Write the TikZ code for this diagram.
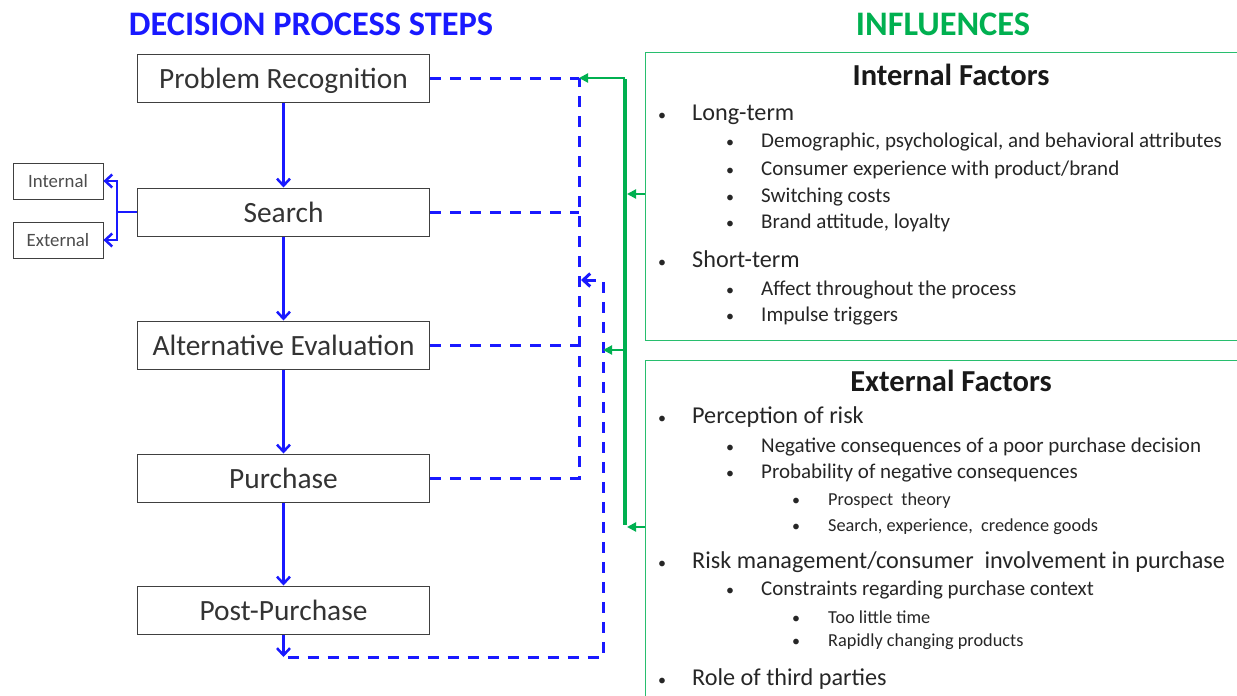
\documentclass[tikz,border=0pt]{standalone}
\usepackage{fontspec}
\setmainfont{Carlito}
\usetikzlibrary{arrows.meta}
\definecolor{myblue}{RGB}{25,25,255}
\definecolor{mygreen}{RGB}{0,176,80}
\definecolor{boxgreen}{RGB}{40,190,110}
\begin{document}
\begin{tikzpicture}[x=1pt,y=-1pt,
  stepbox/.style={draw=black!75, line width=1pt, minimum width=292pt, minimum height=48pt, inner sep=0pt, text height=24pt, text depth=3pt, font=\fontsize{29.4}{32}\selectfont, text=black!80},
  smallbox/.style={draw=black!75, line width=0.8pt, minimum width=90pt, minimum height=36pt, inner sep=0pt, font=\fontsize{18.8}{21}\selectfont, text=black!70},
  factorbox/.style={draw=boxgreen, line width=1pt, inner sep=0pt},
  flow/.style={myblue, line width=2.5pt, -{Straight Barb[length=7pt,width=13pt]}},
  fbdash/.style={myblue, line width=3pt, dash pattern=on 11pt off 9pt},
  trunk/.style={mygreen, line width=4pt},
  infl/.style={mygreen, line width=2pt, -{Triangle[length=9pt,width=9pt]}},
  heading/.style={inner sep=0pt, font=\fontsize{34.4}{38}\selectfont\bfseries},
  ftitle/.style={inner sep=0pt, font=\fontsize{30.5}{34}\selectfont\bfseries, text=black!90},
  lone/.style={anchor=mid west, inner sep=0pt, font=\fontsize{24.2}{27}\selectfont, text=black!85},
  ltwo/.style={anchor=mid west, inner sep=0pt, font=\fontsize{21}{24}\selectfont, text=black!85},
  lthree/.style={anchor=mid west, inner sep=0pt, font=\fontsize{18.3}{21}\selectfont, text=black!85},
  bul/.style={inner sep=0pt, font=\fontsize{16}{18}\selectfont, text=black!85}]
\useasboundingbox (0,0) rectangle (1237,696);
\clip (0,0) rectangle (1237,696);

% headings
\node[heading, text=myblue] (h1) at (311,24) {DECISION PROCESS STEPS};
\node[heading, text=mygreen] (h2) at (943,24) {INFLUENCES};

% steps
\node[stepbox] (pr) at (283.5,78) {Problem Recognition};
\node[stepbox] (se) at (283.5,212) {Search};
\node[stepbox] (ae) at (283.5,345) {Alternative Evaluation};
\node[stepbox] (pu) at (283.5,478) {Purchase};
\node[stepbox] (pp) at (283.5,610) {Post-Purchase};

\node[smallbox] (in) at (58,181) {Internal};
\node[smallbox] (ex) at (58,240) {External};

% flow arrows
\draw[flow] (pr) -- (se);
\draw[flow] (se) -- (ae);
\draw[flow] (ae) -- (pu);
\draw[flow] (pu) -- (pp);

\coordinate (br) at (117,212);
\draw[myblue, line width=2.5pt] (se.west) -- (br);
\draw[flow] (br) |- (in.east);
\draw[flow] (br) |- (ex.east);

% dashed links to influences
\coordinate (d1) at (579,78);
\coordinate (d2) at (579,212);
\coordinate (d3) at (579,345);
\coordinate (d4) at (579,478);
\draw[fbdash] (pr.east) -- (d1);
\draw[fbdash] (se.east) -- (d2);
\draw[fbdash] (ae.east) -- (d3);
\draw[fbdash] (pu.east) -- (d4) -- (d1);

% feedback loop
\coordinate (f0) at (283.5,657);
\coordinate (f1) at (603,657);
\coordinate (f2) at (603,280);
\coordinate (f3) at (581,280);
\draw[flow] (pp.south) -- (f0);
\draw[fbdash, -{Straight Barb[length=7pt,width=13pt]}] ([xshift=4pt]f0) -- (f1) -- (f2) -- (f3);

% factor boxes
\node[factorbox, minimum width=640pt, minimum height=288pt] (ib) at (965,196) {};
\node[factorbox, minimum width=640pt, minimum height=360pt] (eb) at (965,540) {};

% green influences
\coordinate (gt) at (625,78);
\coordinate (gm) at (625,194);
\coordinate (gc) at (625,350);
\coordinate (gb) at (625,527);
\draw[trunk] ([yshift=-1pt]gt) -- ([yshift=2pt]gb);
\draw[infl] (gt) -- (d1);
\draw[infl] (ib.west |- gm) -- ([xshift=2pt]gm);
\draw[infl] (eb.west |- gb) -- ([xshift=2pt]gb);
\draw[infl] (gc) -- (f2 |- gc);

% internal factors text
\node[ftitle] (it) at (951,75) {Internal Factors};
\node[bul] (b1) at (662,117) {\textbullet};
\node[lone] (t1) at (692,118) {Long-term};
\node[bul] (b2) at (730,144) {\textbullet};
\node[ltwo] (t2) at (761,145) {Demographic, psychological, and behavioral attributes};
\node[bul] (b3) at (730,172) {\textbullet};
\node[ltwo] (t3) at (761,173) {Consumer experience with product/brand};
\node[bul] (b4) at (730,199) {\textbullet};
\node[ltwo] (t4) at (761,200) {Switching costs};
\node[bul] (b5) at (730,225) {\textbullet};
\node[ltwo] (t5) at (761,226) {Brand attitude, loyalty};
\node[bul] (b6) at (662,264) {\textbullet};
\node[lone] (t6) at (692,265) {Short-term};
\node[bul] (b7) at (730,292) {\textbullet};
\node[ltwo] (t7) at (761,293) {Affect throughout the process};
\node[bul] (b8) at (730,318) {\textbullet};
\node[ltwo] (t8) at (761,319) {Impulse triggers};

% external factors text
\node[ftitle] (et) at (951,381) {External Factors};
\node[bul] (c1) at (662,420) {\textbullet};
\node[lone] (u1) at (692,421) {Perception of risk};
\node[bul] (c2) at (730,449) {\textbullet};
\node[ltwo] (u2) at (761,450) {Negative consequences of a poor purchase decision};
\node[bul] (c3) at (730,475) {\textbullet};
\node[ltwo] (u3) at (761,476) {Probability of negative consequences};
\node[bul] (c4) at (796,502) {\textbullet};
\node[lthree] (u4) at (828,503) {Prospect\ \ theory};
\node[bul] (c5) at (796,528) {\textbullet};
\node[lthree] (u5) at (828,529) {Search, experience,\ \ credence goods};
\node[bul] (c6) at (662,565) {\textbullet};
\node[lone] (u6) at (692,566) {Risk management/consumer\ \ involvement in purchase};
\node[bul] (c7) at (730,592) {\textbullet};
\node[ltwo] (u7) at (761,593) {Constraints regarding purchase context};
\node[bul] (c8) at (796,620) {\textbullet};
\node[lthree] (u8) at (828,621) {Too little time};
\node[bul] (c9) at (796,643) {\textbullet};
\node[lthree] (u9) at (828,644) {Rapidly changing products};
\node[bul] (c10) at (662,682) {\textbullet};
\node[lone] (u10) at (692,683) {Role of third parties};
\end{tikzpicture}
\end{document}
